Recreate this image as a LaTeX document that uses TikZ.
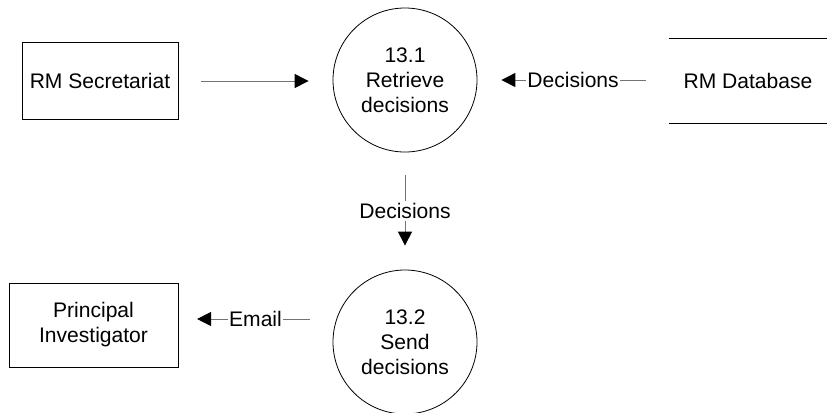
\documentclass[tikz,border=0pt]{standalone}
\usepackage{fontspec}
\setmainfont{Liberation Sans}
\usetikzlibrary{arrows.meta}

\begin{document}
\begin{tikzpicture}[x=0.75pt,y=-0.75pt,
	font=\fontsize{15.8}{18.8}\selectfont,
	entity/.style={draw,line width=0.6pt,inner sep=0pt,align=center},
	process/.style={draw,circle,line width=0.6pt,minimum size=108pt,inner sep=0pt,align=center},
	flow/.style={line width=0.75pt,draw=black!55,-{Triangle[length=10.5pt,width=10.5pt,black]},shorten <=17pt,shorten >=18pt},
	flowlabel/.style={fill=white,inner xsep=1pt,inner ysep=2pt,text=black}]
	\useasboundingbox (0,0) rectangle (827,412);
	\node[entity,minimum width=117pt,minimum height=57.75pt] (sec) at (100,80.5) {RM Secretariat};
	\node[process] (p1) at (405,80) {13.1\\Retrieve\\decisions};
	\node[minimum width=118.5pt,minimum height=63pt,inner sep=0pt] (db) at (748,81) {RM Database};
	\draw[line width=0.6pt] (db.north west) -- (db.north east);
	\draw[line width=0.6pt] (db.south west) -- (db.south east);
	\node[process] (p2) at (405,342) {13.2\\Send\\decisions};
	\node[entity,minimum width=126.75pt,minimum height=63pt] (pi) at (93.5,325) {Principal\\Investigator};
	\draw[flow] (sec.east |- 0,81) -- (p1.west |- 0,81);
	\draw[flow] (db.west |- 0,80) -- node[flowlabel] {Decisions} (p1.east |- 0,80);
	\draw[flow] (p1.south) -- node[flowlabel] {Decisions} (p2.north);
	\draw[flow,shorten >=14pt] (p2.west |- 0,319) -- node[flowlabel] {Email} (pi.east |- 0,319);
\end{tikzpicture}
\end{document}
